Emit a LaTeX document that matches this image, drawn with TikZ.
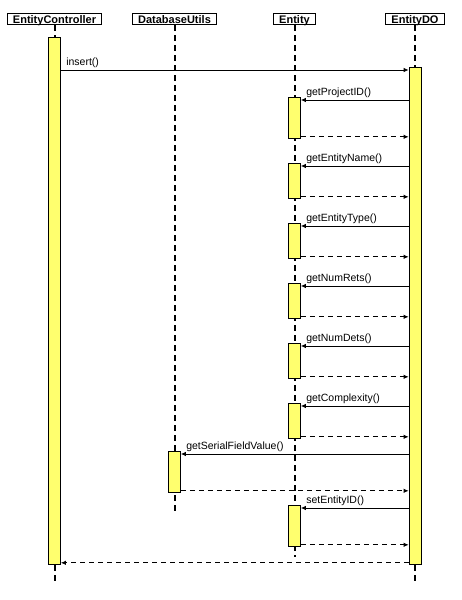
\documentclass[tikz,border=0pt]{standalone}
\usepackage{fontspec}
\setmainfont{Liberation Sans}
\usetikzlibrary{arrows.meta}
\definecolor{actyellow}{RGB}{255,255,110}
\tikzset{
	obj/.style={draw, line width=1pt, font=\fontsize{11}{11}\selectfont\bfseries, inner xsep=5.5pt, inner ysep=1.5pt, text height=8pt, text depth=0pt},
	life/.style={line width=2pt, dash pattern=on 6pt off 4pt},
	act/.style={draw, fill=actyellow, line width=0.8pt, minimum width=12pt, inner sep=0pt, anchor=north},
	call/.style={-{Latex[length=5pt,width=4.5pt]}, line width=0.8pt},
	ret/.style={call, dash pattern=on 5pt off 4pt},
	lbl/.style={font=\fontsize{10.5}{12}\selectfont, anchor=base west, inner sep=0pt, xshift=5pt, yshift=5pt}
}
\begin{document}
\begin{tikzpicture}[x=1pt,y=-1pt]
	\useasboundingbox (0,0) rectangle (462,600);
	\node[obj] at (54.5,19) (ctrl) {EntityController};
	\node[obj] at (174.5,19) (dbu) {DatabaseUtils};
	\node[obj] at (294.5,19) (ent) {Entity};
	\node[obj] at (415,19) (edo) {EntityDO};
	
	\coordinate (ctrlend) at (54.5,583);
	\coordinate (dbuend) at (174.5,512);
	\coordinate (entend) at (294.5,557);
	\coordinate (edoend) at (415,583);
	
	\draw [life] (ctrl.south) -- (ctrlend);
	\draw [life] (dbu.south) -- (dbuend);
	\draw [life] (ent.south) -- (entend);
	\draw [life] (edo.south) -- (edoend);
	
	\node[act, minimum height=527] at (54.5,37) (ctrlact) {};
	\node[act, minimum height=497] at (415,67) (edoact) {};
	\node[act, minimum height=41] at (294.5,97) (ent1) {};
	\node[act, minimum height=35] at (294.5,163) (ent2) {};
	\node[act, minimum height=35] at (294.5,223) (ent3) {};
	\node[act, minimum height=35] at (294.5,283) (ent4) {};
	\node[act, minimum height=35] at (294.5,343) (ent5) {};
	\node[act, minimum height=35] at (294.5,403) (ent6) {};
	\node[act, minimum height=41] at (174.5,451) (dbu1) {};
	\node[act, minimum height=41] at (294.5,505) (ent7) {};
	
	% message ends
	\coordinate (c0) at ([yshift=-33pt]ctrlact.north east);
	\coordinate (c1) at ([yshift=-3pt]ent1.north east);
	\coordinate (r1) at ([yshift=2pt]ent1.south east);
	\coordinate (c2) at ([yshift=-3pt]ent2.north east);
	\coordinate (r2) at ([yshift=2pt]ent2.south east);
	\coordinate (c3) at ([yshift=-3pt]ent3.north east);
	\coordinate (r3) at ([yshift=2pt]ent3.south east);
	\coordinate (c4) at ([yshift=-3pt]ent4.north east);
	\coordinate (r4) at ([yshift=2pt]ent4.south east);
	\coordinate (c5) at ([yshift=-3pt]ent5.north east);
	\coordinate (r5) at ([yshift=2pt]ent5.south east);
	\coordinate (c6) at ([yshift=-3pt]ent6.north east);
	\coordinate (r6) at ([yshift=2pt]ent6.south east);
	\coordinate (c7) at ([yshift=-3pt]dbu1.north east);
	\coordinate (r7) at ([yshift=2pt]dbu1.south east);
	\coordinate (c8) at ([yshift=-3pt]ent7.north east);
	\coordinate (r8) at ([yshift=2pt]ent7.south east);
	\coordinate (r9) at ([yshift=2pt]edoact.south west);
	
	\draw [call] (c0) node[lbl] {insert()} -- (edoact.west |- c0);
	\draw [call] (edoact.west |- c1) -- (c1) node[lbl] {getProjectID()};
	\draw [ret] (r1) -- (edoact.west |- r1);
	\draw [call] (edoact.west |- c2) -- (c2) node[lbl] {getEntityName()};
	\draw [ret] (r2) -- (edoact.west |- r2);
	\draw [call] (edoact.west |- c3) -- (c3) node[lbl] {getEntityType()};
	\draw [ret] (r3) -- (edoact.west |- r3);
	\draw [call] (edoact.west |- c4) -- (c4) node[lbl] {getNumRets()};
	\draw [ret] (r4) -- (edoact.west |- r4);
	\draw [call] (edoact.west |- c5) -- (c5) node[lbl] {getNumDets()};
	\draw [ret] (r5) -- (edoact.west |- r5);
	\draw [call] (edoact.west |- c6) -- (c6) node[lbl] {getComplexity()};
	\draw [ret] (r6) -- (edoact.west |- r6);
	\draw [call] (edoact.west |- c7) -- (c7) node[lbl] {getSerialFieldValue()};
	\draw [ret] (r7) -- (edoact.west |- r7);
	\draw [call] (edoact.west |- c8) -- (c8) node[lbl] {setEntityID()};
	\draw [ret] (r8) -- (edoact.west |- r8);
	\draw [ret] (r9) -- (ctrlact.east |- r9);
	
\end{tikzpicture}
\end{document}
